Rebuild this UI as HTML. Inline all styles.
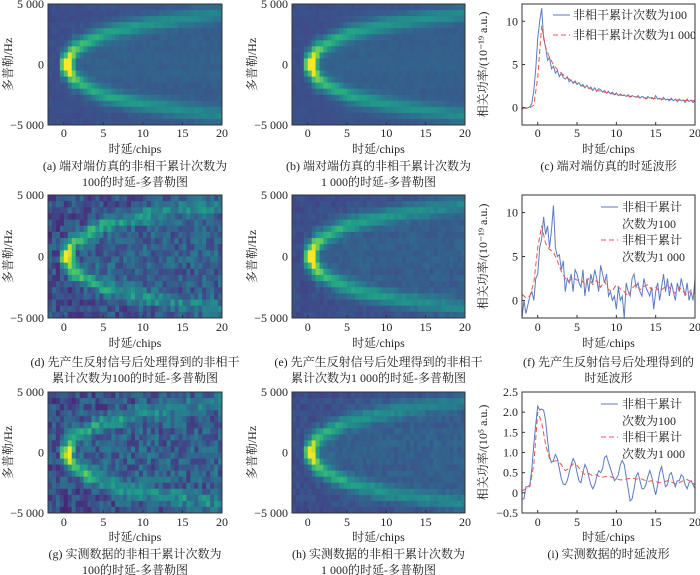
<!DOCTYPE html>
<html><head><meta charset="utf-8">
<style>
html,body{margin:0;padding:0;background:#fff;}
svg{display:block;}
text{font-family:"Liberation Serif","Noto Serif CJK SC",serif;font-size:12px;fill:#222;}
</style></head>
<body>
<svg id="fig" width="700" height="575" viewBox="0 0 700 575"></svg>
<script>
// ---- data arrays ----
const xTicks = [0, 5, 10, 15, 20];
const ridgeDelay = [0, 1, 2, 3, 4, 5, 6, 8, 10, 12, 15, 20];
const ridgeHz = [0, 900, 1500, 1900, 2200, 2500, 2700, 3000, 3300, 3500, 3800, 4200];
const ridgeAmp = [0.85, 0.6, 0.45, 0.4, 0.37, 0.35, 0.33, 0.3, 0.28, 0.26, 0.24, 0.21];
const upperScale = [1.0, 1.0, 0.9, 1.0, 0.8, 0.85];
const lowerScale = [1.0, 1.0, 0.9, 1.0, 0.9, 0.95];
const noiseLevel = [0.04, 0.03, 0.26, 0.07, 0.28, 0.08];
const heatTitles = [
 ["(a) 端对端仿真的非相干累计次数为","100的时延-多普勒图"],
 ["(b) 端对端仿真的非相干累计次数为","1 000的时延-多普勒图"],
 ["(d) 先产生反射信号后处理得到的非相干","累计次数为100的时延-多普勒图"],
 ["(e) 先产生反射信号后处理得到的非相干","累计次数为1 000的时延-多普勒图"],
 ["(g) 实测数据的非相干累计次数为","100的时延-多普勒图"],
 ["(h) 实测数据的非相干累计次数为","1 000的时延-多普勒图"]
];
const cBlue = [-0.2,0,-0.1,0,0.1,0.5,2,4.5,8,10,11.5,8,7,5.5,5.8,4.5,4.8,4,4.3,3.6,4,3.5,3.3,3.6,3,3.2,2.8,3.1,2.7,2.9,2.5,2.7,2.3,2.6,2.2,2.4,2.0,2.3,1.9,2.2,2.1,1.8,2,1.7,1.9,1.6,1.8,1.5,1.7,1.4,1.6,1.4,1.5,1.3,1.5,1.2,1.4,1.3,1.2,1.4,1.1,1.3,1.2,1.0,1.3,1.1,1.2,1.0,1.4,1.0,1.1,0.9,1.2,0.9,1.0,0.8,1.1,0.8,1.0,0.7,1.0,0.8,0.9,0.6,1.0,0.7,0.9,0.6,0.9];
const cRed = [0,0,0,0.3,3.5,9.5,7,5.8,5,4.4,4,3.6,3.3,3.05,2.8,2.6,2.4,2.25,2.1,2.0,1.9,1.8,1.7,1.6,1.5,1.45,1.4,1.35,1.3,1.25,1.2,1.15,1.1,1.08,1.05,1.02,1.0,0.97,0.94,0.91,0.88,0.86,0.84,0.82,0.8];
const fBlue = [-2,0,-1.5,-0.5,0.5,1,0,2.5,3,6,7,9.5,7.5,8.5,6,8,10.8,6,5,5.2,3.5,4.5,1,2.5,2,3,1,3.5,3,2,1.5,3.5,0.5,2.5,1,3,2,3.5,2.5,1,4,3,2,3,0.5,1,0,0.5,-1,1.5,0,0.5,-2,2,1,0.5,2.5,3,1.5,2,1,0.5,2.5,1.5,1,0.5,1.5,-1,1,2,0,1.5,3,1,2.5,0.5,2,1,0,2,1,2.5,1.5,0.5,2,0,1,0,2.5];
const fRed = [0.7,0.3,0.5,2,6,8.5,6.5,5.8,5.5,4.5,3.3,2.5,2.2,2.6,2.3,2.4,1.8,2.5,1.8,2.3,1.5,2.2,1.2,1.1,1.8,1.3,1.0,0.5,1.4,1.8,1.2,1.6,1.8,1.2,1.5,1.0,1.4,1.7,1.2,0.8,1.5,1.0,0.6,1.2,0.7];
const iBlue = [-0.15,-0.15,0.15,0.15,0.2,0.6,1.2,1.7,2.15,2.05,2.08,2.05,1.8,1.3,0.9,0.75,0.8,0.95,0.85,0.6,0.35,0.22,0.2,0.3,0.5,0.7,0.85,0.75,0.5,0.3,0.25,0.5,0.7,0.6,0.4,0.2,0.1,0.2,0.4,0.55,0.5,0.6,0.88,0.92,0.75,0.6,0.45,0.3,0.35,0.45,0.7,0.8,0.7,0.4,0.1,-0.2,-0.15,0.1,0.4,0.5,0.3,0.1,0.1,0.2,0.4,0.55,0.4,0.15,-0.05,0.2,0.5,0.65,0.4,0.15,0.2,0.45,0.5,0.3,0.15,0.3,0.3,0.45,0.4,0.2,0.1,0.25,0.3,0.2,0.1];
const iRed = [0.05,0.1,0.15,0.7,2.0,1.75,1.2,0.85,0.78,0.8,0.7,0.55,0.6,0.72,0.68,0.55,0.45,0.48,0.42,0.45,0.38,0.4,0.42,0.38,0.35,0.32,0.33,0.35,0.37,0.34,0.36,0.32,0.28,0.3,0.28,0.25,0.27,0.3,0.27,0.22,0.25,0.3,0.33,0.28,0.2];

const NS = "http://www.w3.org/2000/svg";
const svg = document.getElementById('fig');
function mk(tag, attrs, parent){const e=document.createElementNS(NS,tag);for(const k in attrs)e.setAttribute(k,attrs[k]);(parent||svg).appendChild(e);return e;}
function txt(s,x,y,anchor,parent,extra){const t=mk('text',Object.assign({x:x,y:y,'text-anchor':anchor||'middle'},extra||{}),parent);t.textContent=s;return t;}

const vir=[[68,1,84],[72,40,120],[62,74,137],[49,104,142],[38,130,142],[31,158,137],[53,183,121],[109,205,89],[180,222,44],[253,231,37]];
function cmap(v){v=Math.max(0,Math.min(1,v));const p=v*(vir.length-1);const i=Math.min(vir.length-2,Math.floor(p));const f=p-i;const a=vir[i],b=vir[i+1];return `rgb(${Math.round(a[0]+(b[0]-a[0])*f)},${Math.round(a[1]+(b[1]-a[1])*f)},${Math.round(a[2]+(b[2]-a[2])*f)})`;}
function interp(xs,ys,x){if(x<=xs[0])return ys[0];for(let i=1;i<xs.length;i++){if(x<=xs[i]){const f=(x-xs[i-1])/(xs[i]-xs[i-1]);return ys[i-1]+(ys[i]-ys[i-1])*f;}}return ys[ys.length-1];}
function texture(i,j,k){let h=Math.sin(i*12.9898+j*78.233+k*37.719)*43758.5453;return h-Math.floor(h)-0.5;}

const cols=[{l:48,r:222},{l:292,r:465},{l:522,r:695}];
const rows=[{t:4,b:125,tick:137,xl:153,cap:170},{t:195,b:318,tick:331,xl:347,cap:366},{t:392,b:513,tick:526,xl:541,cap:558}];

function frameAndX(g,ax,row){
  const sx=d=>ax.l+(d+2)/22*(ax.r-ax.l);
  mk('rect',{x:ax.l,y:row.t,width:ax.r-ax.l,height:row.b-row.t,fill:'none',stroke:'#333','stroke-width':1},g);
  xTicks.forEach(v=>{const x=sx(v);mk('line',{x1:x,x2:x,y1:row.b,y2:row.b-3,stroke:'#333'},g);const t=txt(String(v),x,row.tick,'middle',g);});
  const xl=txt('时延/chips',(ax.l+ax.r)/2,row.xl,'middle',g);
  return sx;
}

// ---- heatmaps ----
for(let p=0;p<6;p++){
  const r=Math.floor(p/2),c=p%2;const ax=cols[c],row=rows[r];
  const g=mk('g',{});
  const sx=d=>ax.l+(d+2)/22*(ax.r-ax.l);
  const sy=f=>row.t+(5000-f)/10000*(row.b-row.t);
  const nx=44,ny=20;
  for(let i=0;i<nx;i++){const d=-2+(i+0.5)*0.5;
    for(let j=0;j<ny;j++){const f=5000-(j+0.5)*500;
      let v=0.04;
      if(d>-0.6){const R=interp(ridgeDelay,ridgeHz,Math.max(0,d));const A=interp(ridgeDelay,ridgeAmp,Math.max(0,d))*(d<0?0.6:1);
        const w=d<1.5?900:650;
        v+=A*upperScale[p]*Math.exp(-Math.pow((f-R)/w,2))*(R<400?0.55:1);
        v+=A*lowerScale[p]*Math.exp(-Math.pow((f+R)/w,2))*(R<400?0.55:1);
        v+=0.07*Math.exp(-Math.pow(f/(R+800),2))*(d>0?1:0);}
      v+=noiseLevel[p]*texture(i,j,p)+0.02*texture(0,j,p+9);
      const rc=mk('rect',{x:sx(d-0.25).toFixed(2),y:sy(f+250).toFixed(2),width:((ax.r-ax.l)/nx+0.4).toFixed(2),height:((row.b-row.t)/ny+0.4).toFixed(2),fill:cmap(0.2+v*0.95)},g);
      
      
    }}
  frameAndX(g,ax,row);
  [[5000,'5 000'],[0,'0'],[-5000,'−5 000']].forEach(([v,s])=>{const y=sy(v);const t=txt(s,ax.l-4,y+4,'end',g);});
  const cy=(row.t+row.b)/2,cx=ax.l-36;
  const yl=txt('多普勒/Hz',cx,cy,'middle',g,{transform:`rotate(-90 ${cx} ${cy})`});
  heatTitles[p].forEach((s,k)=>{const t=txt(s,(ax.l+ax.r)/2,row.cap+k*16,'middle',g);});
}

// ---- line charts ----
const lineSpecs=[
 {row:0,blue:cBlue,red:cRed,ymin:-2,ymax:12,ticks:[0,5,10],tl:['0','5','10'],ylab:'相关功率/(10⁻¹⁹ a.u.)',cap:['(c) 端对端仿真的时延波形'],legend:'one',id:'c'},
 {row:1,blue:fBlue,red:fRed,ymin:-2,ymax:12,ticks:[0,5,10],tl:['0','5','10'],ylab:'相关功率/(10⁻¹⁹ a.u.)',cap:['(f) 先产生反射信号后处理得到的','时延波形'],legend:'two',id:'f'},
 {row:2,blue:iBlue,red:iRed,ymin:-0.5,ymax:2.5,ticks:[-0.5,0,0.5,1,1.5,2,2.5],tl:['−0.5','0','0.5','1.0','1.5','2.0','2.5'],ylab:'相关功率/(10⁵ a.u.)',cap:['(i) 实测数据的时延波形'],legend:'two',id:'i'}
];
lineSpecs.forEach(sp=>{
  const ax=cols[2],row=rows[sp.row];
  const g=mk('g',{});
  const sx=d=>ax.l+(d+2)/22*(ax.r-ax.l);
  const sy=v=>row.b-(v-sp.ymin)/(sp.ymax-sp.ymin)*(row.b-row.t);
  const cp=mk('clipPath',{id:'cl'+sp.id},g);mk('rect',{x:ax.l,y:row.t,width:ax.r-ax.l,height:row.b-row.t},cp);
  const path=(arr,step)=>arr.map((v,i)=>(i?'L':'M')+sx(-2+i*step).toFixed(2)+','+sy(v).toFixed(2)).join('');
  const pb=mk('path',{d:path(sp.blue,0.25),fill:'none',stroke:'#5b7bbf','stroke-width':1,'clip-path':`url(#cl${sp.id})`},g);
  
  const pr=mk('path',{d:path(sp.red,0.5),fill:'none',stroke:'#e8554e','stroke-width':1,'stroke-dasharray':'5,3','clip-path':`url(#cl${sp.id})`},g);
  
  frameAndX(g,ax,row);
  sp.ticks.forEach((v,k)=>{const y=sy(v);mk('line',{x1:ax.l,x2:ax.l+3,y1:y,y2:y,stroke:'#333'},g);const t=txt(sp.tl[k],ax.l-4,y+4,'end',g);});
  const cy=(row.t+row.b)/2,cx=ax.l-35;
  const yl=txt(sp.ylab,cx,cy,'middle',g,{transform:`rotate(-90 ${cx} ${cy})`,'font-size':'11px'});
  sp.cap.forEach((s,k)=>{const t=txt(s,(ax.l+ax.r)/2,row.cap+k*16,'middle',g);});
  const lg=mk('g',{},g);
  if(sp.legend==='one'){
    mk('line',{x1:553,x2:570,y1:row.t+11,y2:row.t+11,stroke:'#5b7bbf'},lg);
    txt('非相干累计次数为100',573,row.t+15,'start',lg,{'font-size':'11px'});
    mk('line',{x1:553,x2:570,y1:row.t+31,y2:row.t+31,stroke:'#e8554e','stroke-dasharray':'5,3'},lg);
    txt('非相干累计次数为1 000',573,row.t+35,'start',lg,{'font-size':'11px'});
  } else {
    const y0=row.t+12;
    mk('line',{x1:601,x2:618,y1:y0,y2:y0,stroke:'#5b7bbf'},lg);
    txt('非相干累计',622,y0+4,'start',lg);txt('次数为100',622,y0+21,'start',lg);
    mk('line',{x1:601,x2:618,y1:y0+33,y2:y0+33,stroke:'#e8554e','stroke-dasharray':'5,3'},lg);
    txt('非相干累计',622,y0+37,'start',lg);txt('次数为1 000',622,y0+54,'start',lg);
  }
});
</script>
</body></html>
